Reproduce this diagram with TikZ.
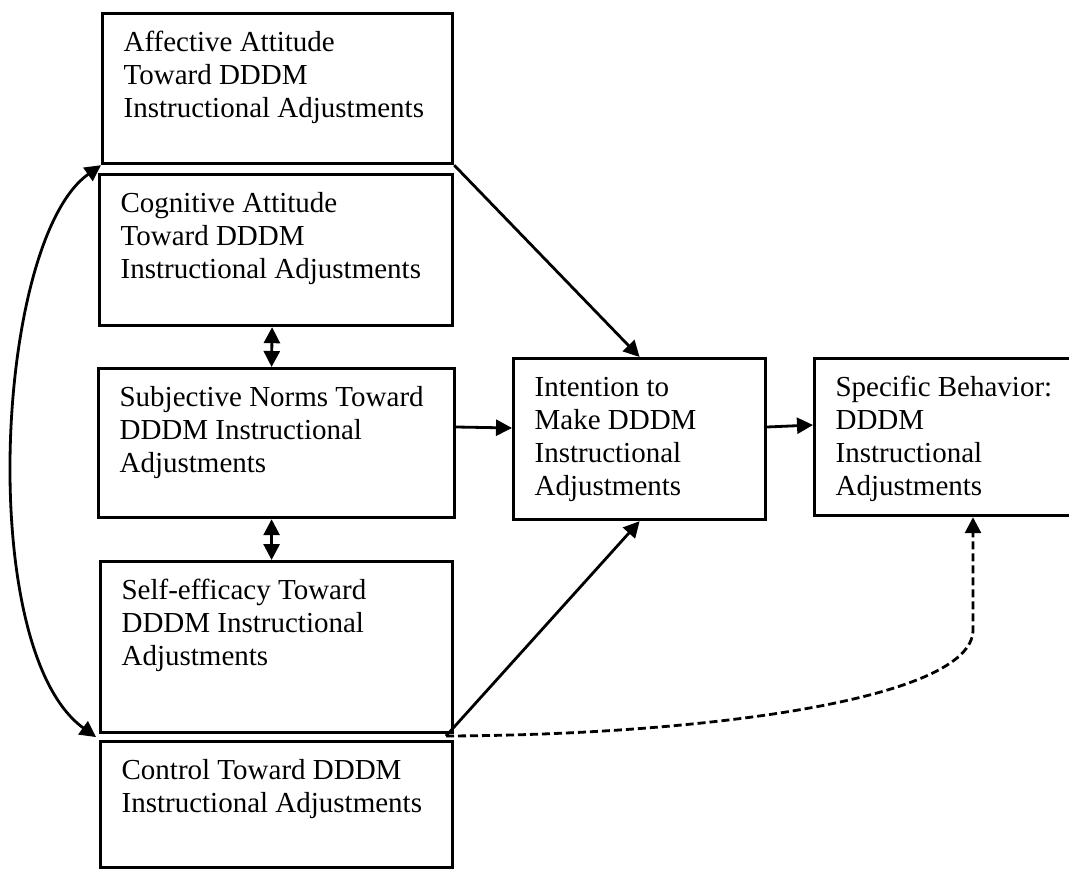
\documentclass[tikz,border=0pt]{standalone}
\usepackage{fontspec}
\setmainfont{Liberation Serif}
\usetikzlibrary{arrows.meta}
\usetikzlibrary{calc}

\newcommand{\factortext}[3]{\parbox[t][#1][t]{#2}{\rule{0pt}{38pt}#3}}

\begin{document}
\begin{tikzpicture}[x=1pt, y=-1pt, % Pixel-Koordinaten, y nach unten
  factor/.style={draw, line width=3.2pt, anchor=north west, inner xsep=21pt, inner ysep=0pt, font=\fontsize{29}{33}\selectfont},
  link/.style={line width=2.8pt, -{Triangle[length=16pt,width=16pt]}},
  both/.style={line width=2.8pt, {Triangle[length=16pt,width=16pt]}-{Triangle[length=16pt,width=16pt]}}]

\useasboundingbox (0,0) rectangle (1069,869);

% Kästen links
\node[factor] (aff) at (101,12) {\factortext{150pt}{308pt}{Affective Attitude\\Toward DDDM\\Instructional Adjustments}};
\node[factor] (cog) at (98,173) {\factortext{151pt}{311pt}{Cognitive Attitude\\Toward DDDM\\Instructional Adjustments}};
\node[factor] (subj) at (97,367) {\factortext{149pt}{314pt}{Subjective Norms Toward\\DDDM Instructional\\Adjustments}};
\node[factor] (self) at (99,560) {\factortext{171pt}{310pt}{Self-efficacy Toward\\DDDM Instructional\\Adjustments}};
\node[factor] (ctrl) at (99,740) {\factortext{126pt}{310pt}{Control Toward DDDM\\Instructional Adjustments}};

% Kästen rechts
\node[factor] (int) at (512,357) {\factortext{161pt}{210pt}{Intention to\\Make DDDM\\Instructional\\Adjustments}};
\node[factor] (beh) at (813,357) {\factortext{157pt}{220pt}{Specific Behavior:\\DDDM\\Instructional\\Adjustments}};

\coordinate (split) at (446,736); % Ecke zwischen self und ctrl
\coordinate (gap) at ($(self.south west)!0.5!(ctrl.north west)+(-3,0)$);
\coordinate (bend) at (973,630);

% Pfeile
\draw[link] (aff.south east) -- (int.north);
\draw[link] ($(subj.north east)+(0,60)$) -- ($(int.north west)+(0,71)$);
\draw[link] ($(int.north east)+(0,70)$) -- ($(beh.north west)+(0,68)$);
\draw[link] (split) -- (int.south);
\draw[both] ($(cog.south)+(-4,0)$) -- ($(subj.north)+(-5,0)$);
\draw[both] ($(subj.south)+(-5,0)$) -- ($(self.north)+(-5,0)$);
\draw[both] (aff.south west) .. controls (-5,240) and (-25,650) .. (gap); % Kovarianz
\draw[link, dash pattern=on 8pt off 4pt] (split) .. controls (700,735) and (973,700) .. (bend) -- (bend |- beh.south);

\end{tikzpicture}
\end{document}
